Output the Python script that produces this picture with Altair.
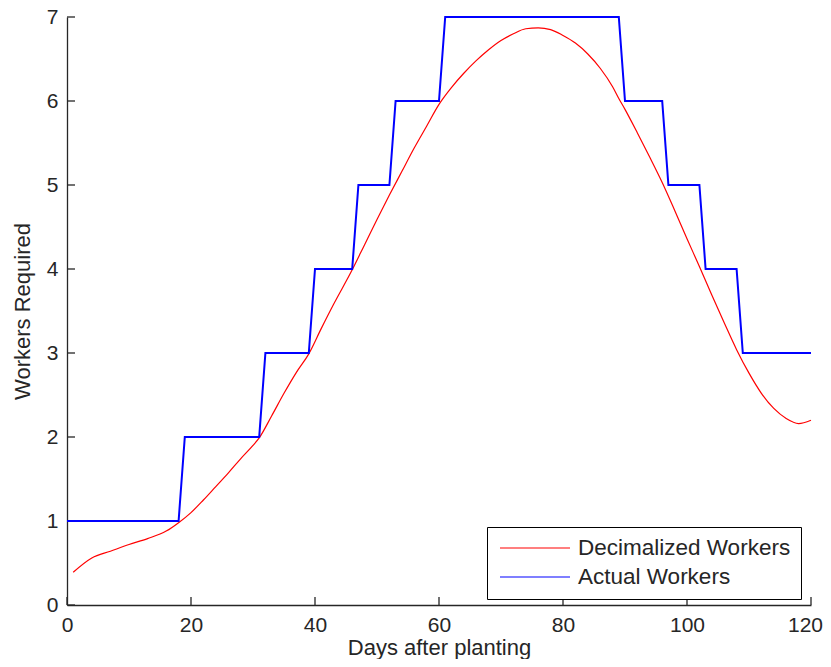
import altair as alt
import pandas as pd

# ---- data ----
dec_days = [1, 4, 7, 10, 13, 16, 18, 20, 22, 24, 26, 28, 30, 31, 33, 35, 37, 39, 41, 43,
            46, 48, 50, 52, 54, 56, 58, 60, 62, 64, 66, 68, 70, 72, 74, 76, 78, 80, 82, 84,
            86, 88, 89, 90, 92, 94, 96, 98, 100, 102, 104, 106, 108, 110, 112, 114, 116, 118, 120]
dec_vals = [0.39, 0.56, 0.64, 0.72, 0.79, 0.88, 0.98, 1.10, 1.25, 1.41, 1.57, 1.74, 1.90, 1.99, 2.25, 2.52, 2.77, 2.99, 3.29, 3.58,
            3.99, 4.29, 4.59, 4.88, 5.16, 5.44, 5.70, 5.96, 6.16, 6.33, 6.48, 6.61, 6.72, 6.80, 6.86, 6.87, 6.85, 6.78, 6.69, 6.56,
            6.39, 6.17, 6.03, 5.90, 5.62, 5.33, 5.03, 4.70, 4.36, 4.03, 3.69, 3.36, 3.04, 2.76, 2.52, 2.34, 2.22, 2.16, 2.20]

act_days = [0, 18, 19, 31, 32, 39, 40, 46, 47, 52, 53, 60, 61, 89, 90, 96, 97, 102, 103, 108, 109, 120]
act_vals = [1, 1, 2, 2, 3, 3, 4, 4, 5, 5, 6, 6, 7, 7, 6, 6, 5, 5, 4, 4, 3, 3]

series_names = ["Decimalized Workers", "Actual Workers"]
series_colors = ["#ff0000", "#0000ff"]

x_ticks = [0, 20, 40, 60, 80, 100, 120]
y_ticks = [0, 1, 2, 3, 4, 5, 6, 7]

# ---- styling ----
FONT = "Liberation Sans"
AX = "#262626"
W, H = 744, 588

dec_df = pd.DataFrame({"day": dec_days, "workers": dec_vals, "series": series_names[0]})
act_df = pd.DataFrame({"day": act_days, "workers": act_vals, "series": series_names[1]})

x_scale = alt.Scale(domain=[0, 120], nice=False, zero=False)
y_scale = alt.Scale(domain=[0, 7], nice=False)
color_scale = alt.Scale(domain=series_names, range=series_colors)

legend = alt.Legend(
    title=None, orient="none", legendX=420, legendY=510,
    strokeColor="#000000", fillColor="#ffffff", padding=10,
    symbolType="stroke", symbolSize=4900, symbolStrokeWidth=1.2, symbolOffset=2,
    clipHeight=22,
    labelFont=FONT, labelFontSize=22.5, labelColor="#262626", labelOffset=7,
    labelLimit=400, rowPadding=6,
)

x_title = "Days after planting"
y_title = "Workers Required"

x_axis = alt.Axis(values=x_ticks, format="d", labelFlush=False,
                  labelOffset={"condition": {"test": "datum.value == 120", "value": -6}, "value": 0},
                  titleBaseline="alphabetic", titleY=49)
y_axis = alt.Axis(values=y_ticks, format="d",
                  titleBaseline="alphabetic", titleAngle=270, titleAlign="center",
                  titleX=-38, titleY=H / 2)

red = alt.Chart(dec_df).mark_line(interpolate="monotone", strokeWidth=1.2).encode(
    x=alt.X("day:Q", scale=x_scale, title=x_title, axis=x_axis),
    y=alt.Y("workers:Q", scale=y_scale, title=y_title, axis=y_axis),
    color=alt.Color("series:N", scale=color_scale, legend=legend),
)

blue = alt.Chart(act_df).mark_line(strokeWidth=2).encode(
    x=alt.X("day:Q", scale=x_scale, title=x_title),
    y=alt.Y("workers:Q", scale=y_scale, title=y_title),
    color=alt.Color("series:N", scale=color_scale, legend=legend),
)

xt = alt.Chart(pd.DataFrame({"t": x_ticks})).mark_rule(color=AX, strokeWidth=1.3).encode(
    x=alt.X("t:Q", scale=x_scale, title=x_title),
    y=alt.value(H),
    y2=alt.value(H - 8),
)
yt = alt.Chart(pd.DataFrame({"t": y_ticks})).mark_rule(color=AX, strokeWidth=1.3).encode(
    y=alt.Y("t:Q", scale=y_scale, title=y_title),
    x=alt.value(0),
    x2=alt.value(8),
)

chart = alt.layer(xt, yt, red, blue).properties(
    width=W, height=H,
    autosize=alt.AutoSizeParams(type="none"),
    padding={"left": 59, "top": 9, "right": 12, "bottom": 54},
    background="#ffffff",
).configure_axis(
    domainColor=AX, domainWidth=1.3, ticks=False, grid=False,
    labelFont=FONT, labelFontSize=21, labelColor="#262626",
    titleFont=FONT, titleFontSize=22, titleFontWeight="normal", titleColor="#262626",
).configure_axisX(
    labelPadding=9,
).configure_axisY(
    labelPadding=9,
).configure_view(
    strokeWidth=0,
)

chart.save("out.html", embed_options={"renderer": "svg", "actions": False})
